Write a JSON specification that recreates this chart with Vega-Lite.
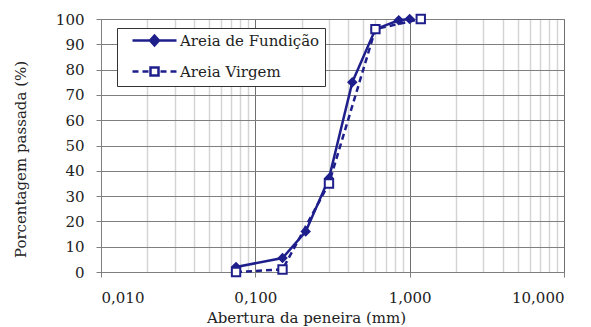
{
  "$schema": "https://vega.github.io/schema/vega-lite/v6.json",
  "width": 463,
  "height": 253,
  "autosize": {"type": "none"},
  "padding": {"left": 101, "top": 19, "right": 27, "bottom": 55},
  "background": "white",
  "config": {
    "font": "DejaVu Serif",
    "view": {"stroke": "#7a7a7a", "strokeWidth": 1},
    "axis": {
      "labelFont": "DejaVu Serif",
      "titleFont": "DejaVu Serif",
      "labelColor": "#222222",
      "titleColor": "#222222",
      "titleFontWeight": "normal",
      "labelFontSize": 15,
      "titleFontSize": 15
    },
    "legend": {"labelFont": "DejaVu Serif"}
  },
  "data": {
    "values": [
      {"serie": "Areia de Fundição", "abertura": 0.075, "passante": 2},
      {"serie": "Areia de Fundição", "abertura": 0.15, "passante": 5.5},
      {"serie": "Areia de Fundição", "abertura": 0.212, "passante": 16},
      {"serie": "Areia de Fundição", "abertura": 0.3, "passante": 37},
      {"serie": "Areia de Fundição", "abertura": 0.425, "passante": 75},
      {"serie": "Areia de Fundição", "abertura": 0.6, "passante": 96},
      {"serie": "Areia de Fundição", "abertura": 0.85, "passante": 99.5},
      {"serie": "Areia de Fundição", "abertura": 1.0, "passante": 100},
      {"serie": "Areia Virgem", "abertura": 0.075, "passante": 0},
      {"serie": "Areia Virgem", "abertura": 0.15, "passante": 1},
      {"serie": "Areia Virgem", "abertura": 0.3, "passante": 35},
      {"serie": "Areia Virgem", "abertura": 0.6, "passante": 96},
      {"serie": "Areia Virgem", "abertura": 1.18, "passante": 100}
    ]
  },
  "encoding": {
    "y": {
      "field": "passante",
      "type": "quantitative",
      "scale": {"domain": [0, 100], "nice": false, "zero": true},
      "axis": {
        "title": "Porcentagem passada (%)",
        "values": [0, 10, 20, 30, 40, 50, 60, 70, 80, 90, 100],
        "grid": true,
        "gridColor": "#7f7f7f",
        "gridWidth": 1,
        "domainColor": "#7f7f7f",
        "tickColor": "#7f7f7f",
        "tickSize": 5,
        "labelPadding": 12,
        "titlePadding": 27,
        "titleY": 140
      }
    }
  },
  "layer": [
    {
      "transform": [{"filter": "datum.serie === 'Areia de Fundição'"}],
      "mark": {"type": "line", "strokeWidth": 2.5, "color": "#1f1f8c"},
      "encoding": {
        "x": {
          "field": "abertura",
          "type": "quantitative",
          "scale": {"type": "log", "domain": [0.01, 10], "nice": false},
          "axis": {
            "orient": "bottom",
            "values": [0.02, 0.03, 0.04, 0.05, 0.06, 0.07, 0.08, 0.09, 0.2, 0.3, 0.4, 0.5, 0.6, 0.7, 0.8, 0.9, 2, 3, 4, 5, 6, 7, 8, 9],
            "grid": true,
            "gridColor": "#d4d4d4",
            "gridWidth": 1.5,
            "labels": false,
            "ticks": false,
            "domain": false,
            "title": null
          }
        }
      }
    },
    {
      "transform": [{"filter": "datum.serie === 'Areia Virgem'"}],
      "mark": {"type": "line", "strokeWidth": 2.5, "color": "#1f1f8c", "strokeDash": [6, 4]},
      "encoding": {
        "x": {
          "field": "abertura",
          "type": "quantitative",
          "scale": {"type": "log", "domain": [0.01, 10], "nice": false},
          "axis": null
        }
      }
    },
    {
      "mark": {"type": "point", "strokeWidth": 2, "opacity": 1, "color": "#1f1f8c"},
      "encoding": {
        "x": {
          "field": "abertura",
          "type": "quantitative",
          "scale": {"type": "log", "domain": [0.01, 10], "nice": false},
          "axis": {
            "orient": "bottom",
            "values": [0.01, 0.1, 1, 10],
            "grid": true,
            "gridColor": "#6f6f6f",
            "gridWidth": 1,
            "domainColor": "#7f7f7f",
            "tickColor": "#7f7f7f",
            "tickSize": 5,
            "labelPadding": 13,
            "labelExpr": "replace(format(datum.value, '.3f'), '.', ',')",
            "title": "Abertura da peneira (mm)",
            "titleX": 205,
            "titleAlign": "center",
            "titlePadding": 5
          }
        },
        "shape": {
          "field": "serie",
          "type": "nominal",
          "scale": {"domain": ["Areia de Fundição", "Areia Virgem"], "range": ["diamond", "square"]},
          "legend": null
        },
        "fill": {
          "condition": {"test": "datum.serie === 'Areia de Fundição'", "value": "#1f1f8c"},
          "value": "white"
        },
        "size": {
          "condition": {"test": "datum.serie === 'Areia de Fundição'", "value": 60},
          "value": 70
        }
      }
    },
    {
      "description": "Legend key: line sample with its marker, one path per series",
      "transform": [{"filter": "false"}],
      "mark": {"type": "point", "strokeWidth": 2.5, "opacity": 1, "color": "#1f1f8c"},
      "encoding": {
        "x": {
          "field": "abertura",
          "type": "quantitative",
          "scale": {"type": "log", "domain": [0.01, 10], "nice": false},
          "axis": null
        },
        "shape": {
          "field": "serie",
          "type": "nominal",
          "scale": {
            "domain": ["Areia de Fundição", "Areia Virgem"],
            "range": [
              "M0.6,0H9.4M5,-1L5.9,0L5,1L4.1,0ZM5,-0.5L5.45,0L5,0.5L4.55,0Z",
              "M0.6,0H1.8M2.6,0H3.8M4.2,-0.8H5.8V0.8H4.2ZM6.2,0H7.4M8.2,0H9.4"
            ]
          },
          "legend": {
            "title": null,
            "orient": "none",
            "legendX": 16,
            "legendY": 9,
            "padding": 5,
            "strokeColor": "#333333",
            "fillColor": "white",
            "labelFontSize": 15,
            "labelColor": "#222222",
            "labelOffset": 43,
            "symbolSize": 100,
            "symbolStrokeWidth": 2.5,
            "symbolStrokeColor": "#1f1f8c",
            "symbolOpacity": 1,
            "rowPadding": 11
          }
        }
      }
    }
  ],
  "resolve": {"axis": {"x": "independent"}, "scale": {"shape": "independent"}}
}
